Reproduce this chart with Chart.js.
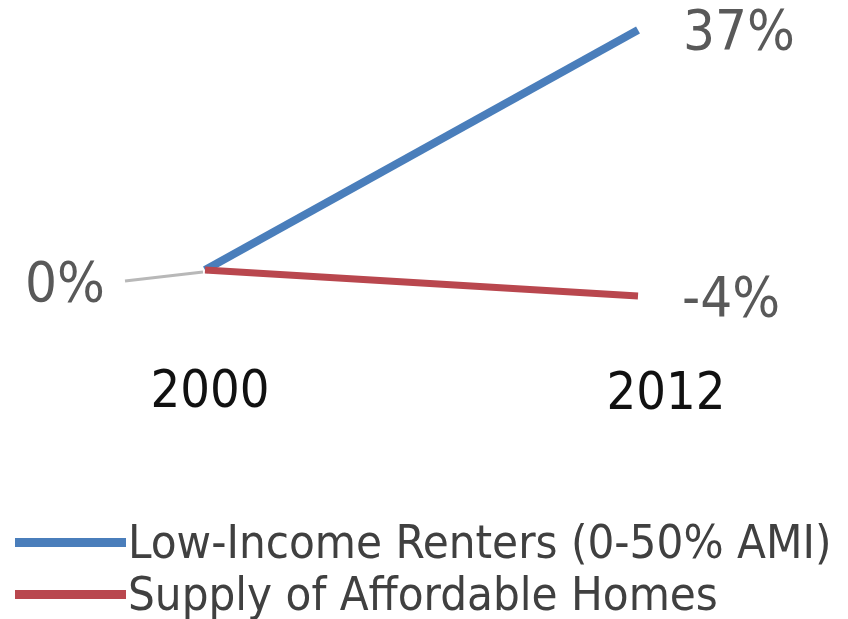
<!DOCTYPE html>
<html><head><meta charset="utf-8">
<script src="https://cdn.jsdelivr.net/npm/chart.js@4/dist/chart.umd.min.js"></script>
<style>
html,body{margin:0;padding:0;background:#fff;overflow:hidden;}
#wrap{position:relative;width:848px;height:619px;overflow:hidden;}
#legend{position:absolute;left:15px;top:516px;font-family:"DejaVu Sans Condensed","DejaVu Sans",sans-serif;font-size:47px;color:#404040;line-height:52px;}
.li{display:flex;align-items:center;white-space:nowrap;height:52px;}
.sw{display:inline-block;width:111px;height:9px;margin-right:2px;flex:none;}
</style></head>
<body><div id="wrap"><canvas id="c" width="848" height="619"></canvas>
<div id="legend"></div></div>
<script>
const years = [2000, 2012];
const renters = [0, 37];
const supply = [0, -4];
const seriesNames = ["Low-Income Renters (0-50% AMI)", "Supply of Affordable Homes"];
const seriesColors = ["#4a7ebb", "#b9474e"];

const FONT = '"DejaVu Sans Condensed","DejaVu Sans",sans-serif';

const labelsPlugin = {
  id: 'labels',
  afterDatasetsDraw(chart) {
    const ctx = chart.ctx;
    const xs = chart.scales.x, ys = chart.scales.y;
    const x0 = xs.getPixelForValue(years[0]), x1 = xs.getPixelForValue(years[1]);
    const y0 = ys.getPixelForValue(renters[0]);
    ctx.save();
    ctx.strokeStyle = '#b8b8b8';
    ctx.lineWidth = 3;
    ctx.beginPath();
    ctx.moveTo(x0 - 80, y0 + 11);
    ctx.lineTo(x0 - 2, y0 + 2);
    ctx.stroke();
    ctx.font = '56px ' + FONT;
    ctx.fillStyle = '#595959';
    ctx.textBaseline = 'middle';
    ctx.textAlign = 'right';
    ctx.fillText(renters[0] + '%', x0 - 100, y0 + 16);
    ctx.textAlign = 'left';
    ctx.fillText(renters[1] + '%', x1 + 45, ys.getPixelForValue(renters[1]) + 4);
    ctx.fillText(supply[1] + '%', x1 + 44, ys.getPixelForValue(supply[1]) + 5);
    ctx.font = '52px ' + FONT;
    ctx.fillStyle = '#111';
    ctx.textAlign = 'center';
    ctx.fillText(String(years[0]), x0 + 5, 393);
    ctx.fillText(String(years[1]), x1 + 28, 395);
    ctx.restore();
  }
};

new Chart(document.getElementById('c'), {
  type: 'line',
  data: {
    datasets: [
      { label: seriesNames[0], data: years.map((y,i)=>({x:y,y:renters[i]})), borderColor: seriesColors[0], borderWidth: 8, pointRadius: 0, clip: false, order: 1, borderCapStyle: 'butt' },
      { label: seriesNames[1], data: years.map((y,i)=>({x:y,y:supply[i]})), borderColor: seriesColors[1], borderWidth: 7, pointRadius: 0, clip: false, order: 0, borderCapStyle: 'butt' }
    ]
  },
  options: {
    responsive: false, animation: false, devicePixelRatio: 1,
    layout: { padding: { left: 205, right: 210, top: 30, bottom: 323 } },
    scales: {
      x: { type: 'linear', min: years[0], max: years[1], display: false },
      y: { min: -4, max: 37, display: false }
    },
    plugins: { legend: { display: false }, tooltip: { enabled: false } }
  },
  plugins: [labelsPlugin]
});

const lg = document.getElementById('legend');
seriesNames.forEach((n,i)=>{
  const d = document.createElement('div'); d.className='li';
  const s = document.createElement('span'); s.className='sw'; s.style.background=seriesColors[i];
  d.appendChild(s); d.appendChild(document.createTextNode(n)); lg.appendChild(d);
});
</script></body></html>
